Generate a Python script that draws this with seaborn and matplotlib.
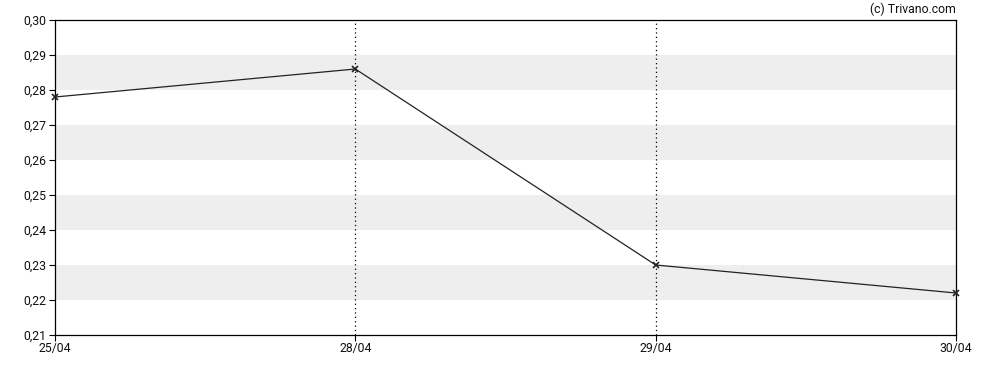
import pandas as pd
import matplotlib
matplotlib.use('Agg')
import matplotlib.pyplot as plt
import seaborn as sns
from matplotlib.ticker import FuncFormatter

# Datos del gráfico
fechas = ['25/04', '28/04', '29/04', '30/04']
precios = [0.278, 0.286, 0.230, 0.222]
bandas = [(0.22, 0.23), (0.24, 0.25), (0.26, 0.27), (0.28, 0.29)]

df = pd.DataFrame({'pos': range(len(fechas)), 'precio': precios})

sns.set_style('white')
plt.rcParams['font.family'] = ['Roboto', 'DejaVu Sans']

fig = plt.figure(figsize=(9.88, 3.70), dpi=100)
ax = fig.add_axes([55 / 988, 1 - 335 / 370, (956 - 55) / 988, (335 - 20) / 370])

for lo, hi in bandas:
    ax.axhspan(lo, hi, color='#eeeeee', lw=0, zorder=0)

for x in range(1, len(fechas) - 1):
    ax.axvline(x, color='black', lw=0.9, linestyle=(0, (1, 2.5)), zorder=1)

sns.lineplot(data=df, x='pos', y='precio', ax=ax, color='#222222', lw=0.9,
             marker='x', markersize=4, markeredgewidth=1.2, markeredgecolor='#222222',
             zorder=3, clip_on=False)

ax.set_xlim(0, len(fechas) - 1)
ax.set_ylim(0.21, 0.30)
ax.set_xticks(range(len(fechas)))
ax.set_xticklabels(fechas)
ax.set_yticks([0.21 + i * 0.01 for i in range(10)])
ax.yaxis.set_major_formatter(FuncFormatter(lambda v, p: f'{v:.2f}'.replace('.', ',')))
ax.set_xlabel('')
ax.set_ylabel('')

for s in ax.spines.values():
    s.set_color('black')
    s.set_linewidth(0.9)

ax.tick_params(axis='both', which='major', labelsize=8.8, length=4, width=0.8,
               color='black', labelcolor='#111111', direction='out', pad=2,
               bottom=True, left=True)
ax.tick_params(axis='x', pad=1)

fig.text(956 / 988, 1 - 9 / 370, '(c) Trivano.com', ha='right', va='center',
         fontsize=8.8, color='#111111')

fig.savefig('out.png', dpi=100)
